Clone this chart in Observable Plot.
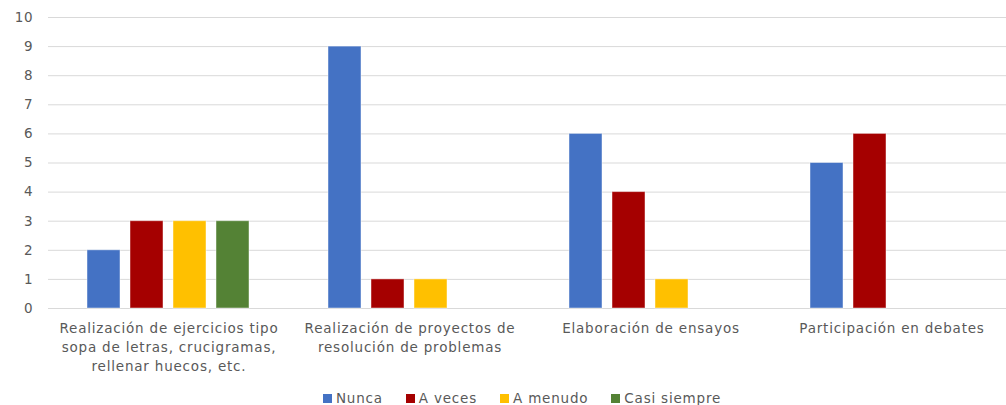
<!DOCTYPE html>
<html>
<head>
<meta charset="utf-8">
<script src="https://cdn.jsdelivr.net/npm/d3@7"></script>
<script src="https://cdn.jsdelivr.net/npm/@observablehq/plot@0.6"></script>
<style>
  html, body { margin: 0; padding: 0; background: #fff; }
  #chart { width: 1006px; height: 405px; overflow: hidden; position: relative; }
  .legend { display: flex; justify-content: center; gap: 23px; margin-left: 38px; margin-top: 3px;
            font-family: "DejaVu Sans", sans-serif; font-size: 13.5px; letter-spacing: 0.8px; color: #595959;
            height: 20px; align-items: center; }
  .legend span { display: inline-flex; align-items: center; }
  .legend i { display: inline-block; width: 9px; height: 9px; margin-right: 4px; }
</style>
</head>
<body>
<div id="chart"></div>
<script>
// Activity categories (x groups) and response series
const categories = [
  "Realización de ejercicios tipo\nsopa de letras, crucigramas,\nrellenar huecos, etc.",
  "Realización de proyectos de\nresolución de problemas",
  "Elaboración de ensayos",
  "Participación en debates"
];
const series = ["Nunca", "A veces", "A menudo", "Casi siempre"];
const colors = ["#4472C4", "#A50000", "#FFC000", "#548235"];

// Counts per series, one value per category
const nunca       = [2, 9, 6, 5];
const aVeces      = [3, 1, 4, 6];
const aMenudo     = [3, 1, 1, 0];
const casiSiempre = [3, 0, 0, 0];

const yTicks = [0, 1, 2, 3, 4, 5, 6, 7, 8, 9, 10];

const values = [nunca, aVeces, aMenudo, casiSiempre];
const data = [];
categories.forEach((c, i) => {
  series.forEach((s, j) => data.push({category: c, series: s, value: values[j][i]}));
});

const font = "'DejaVu Sans', sans-serif";

const chart = Plot.plot({
  width: 1006,
  height: 385,
  marginLeft: 48,
  marginRight: -6,
  marginTop: 17,
  marginBottom: 77,
  style: {fontFamily: font, fontSize: "13.5px", letterSpacing: "0.8px", color: "#595959", background: "#fff"},
  fx: {domain: categories, padding: 0, label: null},
  x: {domain: series, paddingInner: 0.222, paddingOuter: 0.868, axis: null},
  y: {domain: [0, 10], label: null},
  color: {domain: series, range: colors},
  marks: [
    Plot.ruleY(yTicks, {stroke: "#d9d9d9", strokeWidth: 1}),
    Plot.axisY({ticks: yTicks, tickSize: 0, tickPadding: 15, fontSize: 13.5, fill: "#595959", label: null}),
    Plot.axisFx({anchor: "bottom", tickSize: 0, tickPadding: 11, lineHeight: 1.4, fontSize: 13.5, fill: "#595959", label: null}),
    Plot.barY(data, {
      fx: "category", x: "series", y: "value", fill: "series",
      filter: d => d.value > 0,
      stroke: "#fff", strokeOpacity: 0.45, strokeWidth: 1
    })
  ]
});

const wrap = document.getElementById("chart");
wrap.appendChild(chart);

// Legend below the plot
const legend = document.createElement("div");
legend.className = "legend";
series.forEach((s, j) => {
  const item = document.createElement("span");
  const sw = document.createElement("i");
  sw.style.background = colors[j];
  item.appendChild(sw);
  item.appendChild(document.createTextNode(s));
  legend.appendChild(item);
});
wrap.appendChild(legend);
</script>
</body>
</html>
